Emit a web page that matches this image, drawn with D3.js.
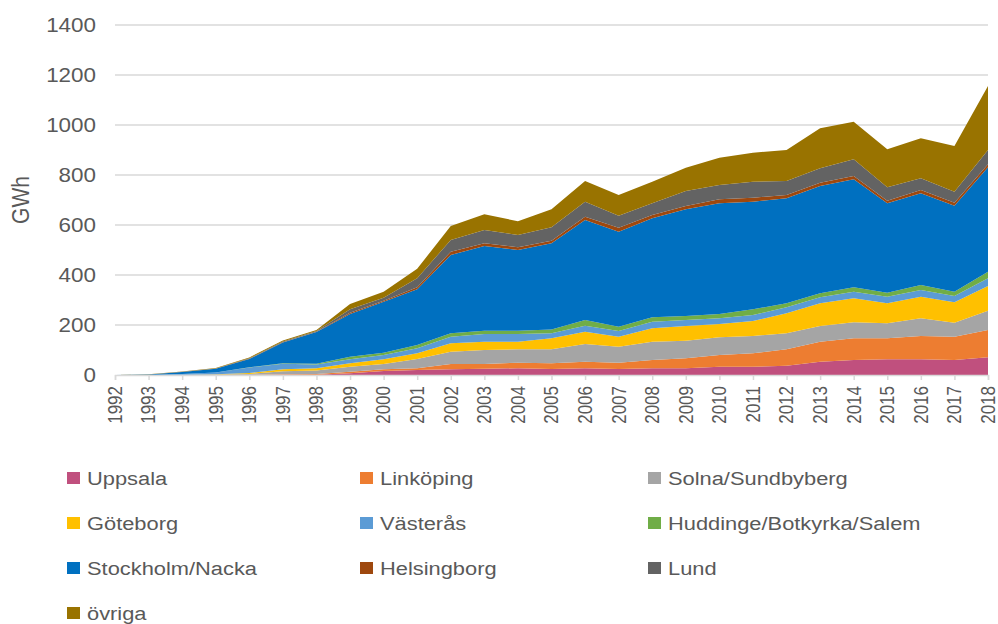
<!DOCTYPE html>
<html>
<head>
<meta charset="utf-8">
<script src="https://cdn.jsdelivr.net/npm/d3@7"></script>
<style>
  body { margin: 0; background: #fff; }
  text { font-family: "Liberation Sans", Arial, sans-serif; fill: #595959; }
</style>
</head>
<body>
<div id="chart"></div>
<script>
// years on the x axis
let years = d3.range(1992, 2019);

// GWh per year and area
let uppsala     = [0,0,0,0,0,1,1,7,16,20,23,25,27,24,27,24,27,27,33,33,37,53,60,63,63,60,71];
let linkoping   = [0,0,0,0,1,2,3,6,7,7,21,19,22,23,26,25,33,40,47,54,66,80,87,84,93,93,109];
let solna       = [0,0,1,2,3,12,14,20,21,37,49,56,54,56,71,64,73,70,71,69,64,63,64,60,71,56,77];
let goteborg    = [0,0,0,1,4,8,9,14,19,23,34,33,30,44,49,40,54,59,53,60,80,91,96,80,86,82,99];
let vasteras    = [0,0,3,7,22,22,15,16,17,20,26,31,31,20,24,23,26,24,23,24,24,24,26,26,27,25,31];
let huddinge    = [0,0,0,0,1,2,3,10,9,13,14,13,13,15,23,17,18,16,17,23,16,16,18,16,20,17,26];
let stockholm   = [0,2,8,15,33,83,127,171,204,223,313,339,323,345,400,380,396,427,443,430,420,429,432,358,367,344,418];
let helsingborg = [0,0,0,0,1,1,1,5,4,8,13,11,11,10,13,16,13,13,16,16,13,13,13,10,13,12,12];
let lund        = [0,0,1,1,2,3,3,14,12,36,47,53,49,54,60,48,47,60,57,64,56,58,67,54,47,44,57];
let ovriga      = [0,1,1,2,3,4,4,21,24,38,56,63,55,72,83,83,86,93,109,116,124,160,150,152,160,183,256];

let seriesNames = ["Uppsala", "Linköping", "Solna/Sundbyberg", "Göteborg", "Västerås",
                   "Huddinge/Botkyrka/Salem", "Stockholm/Nacka", "Helsingborg", "Lund", "övriga"];
let seriesValues = [uppsala, linkoping, solna, goteborg, vasteras, huddinge, stockholm, helsingborg, lund, ovriga];
let colors = ["#c0507e", "#ed7d31", "#a5a5a5", "#ffc000", "#5b9bd5",
              "#70ad47", "#0070c0", "#9e480e", "#636363", "#997300"];

let yTicks = [0, 200, 400, 600, 800, 1000, 1200, 1400];

// svg size
let svgWidth = 998;
let svgHeight = 624;
let stretch = 1.15; // the text in the picture is a bit wide

let svg = d3.select("#chart")
    .append("svg")
    .attr("width", svgWidth)
    .attr("height", svgHeight);

// build rows for d3.stack
let table = years.map(function(yr, i) {
    let row = { year: yr };
    seriesNames.forEach(function(name, j) { row[name] = seriesValues[j][i]; });
    return row;
});

let stacked = d3.stack().keys(seriesNames)(table);

// scales
let x = d3.scaleLinear().domain([1992, 2018]).range([115, 988]);
let y = d3.scaleLinear().domain([0, 1400]).range([375, 25]);

// gridlines
svg.append("g")
    .selectAll("line")
    .data(yTicks.slice(1))
    .enter()
    .append("line")
    .attr("x1", x(1992))
    .attr("x2", x(2018))
    .attr("y1", d => y(d))
    .attr("y2", d => y(d))
    .attr("stroke", "#d9d9d9")
    .attr("stroke-width", 1.5);

// areas
let area = d3.area()
    .x(d => x(d.data.year))
    .y0(d => y(d[0]))
    .y1(d => y(d[1]));

svg.append("g")
    .selectAll("path")
    .data(stacked)
    .enter()
    .append("path")
    .attr("d", area)
    .attr("fill", (d, i) => colors[i]);

// x axis
let xAxis = d3.axisBottom(x)
    .tickValues(years)
    .tickSize(5)
    .tickFormat(d3.format("d"));

let xg = svg.append("g")
    .attr("transform", `translate(0, ${y(0)})`)
    .call(xAxis);

xg.select(".domain").attr("stroke", "#d9d9d9").attr("stroke-width", 1.5);
xg.selectAll(".tick line").attr("stroke", "#d9d9d9").attr("stroke-width", 1.5);
xg.selectAll(".tick text").remove();

svg.append("g")
    .selectAll("text")
    .data(years)
    .enter()
    .append("text")
    .attr("transform", d => `translate(${x(d)}, 386) scale(${stretch},1) rotate(-90)`)
    .attr("text-anchor", "end")
    .attr("dy", "0.35em")
    .style("font-size", "17px")
    .text(d => d);

// y tick labels
svg.append("g")
    .selectAll("text")
    .data(yTicks)
    .enter()
    .append("text")
    .attr("transform", d => `translate(96, ${y(d)}) scale(${stretch},1)`)
    .attr("text-anchor", "end")
    .attr("dy", "0.35em")
    .style("font-size", "19.5px")
    .text(d => d);

// y axis title
svg.append("text")
    .attr("transform", `translate(21, 200) scale(${stretch},1) rotate(-90)`)
    .attr("text-anchor", "middle")
    .attr("dy", "0.35em")
    .style("font-size", "21px")
    .text("GWh");

// legend, 3 columns
let colX = [67, 360, 648];
let legend = svg.append("g")
    .selectAll("g")
    .data(seriesNames)
    .enter()
    .append("g")
    .attr("transform", (d, i) => `translate(${colX[i % 3]}, ${478 + Math.floor(i / 3) * 45})`);

legend.append("rect")
    .attr("x", 0)
    .attr("y", -6)
    .attr("width", 13)
    .attr("height", 12)
    .attr("fill", (d, i) => colors[i]);

legend.append("text")
    .attr("transform", `translate(20, 0) scale(${stretch},1)`)
    .attr("dy", "0.35em")
    .style("font-size", "19px")
    .text(d => d);
</script>
</body>
</html>
